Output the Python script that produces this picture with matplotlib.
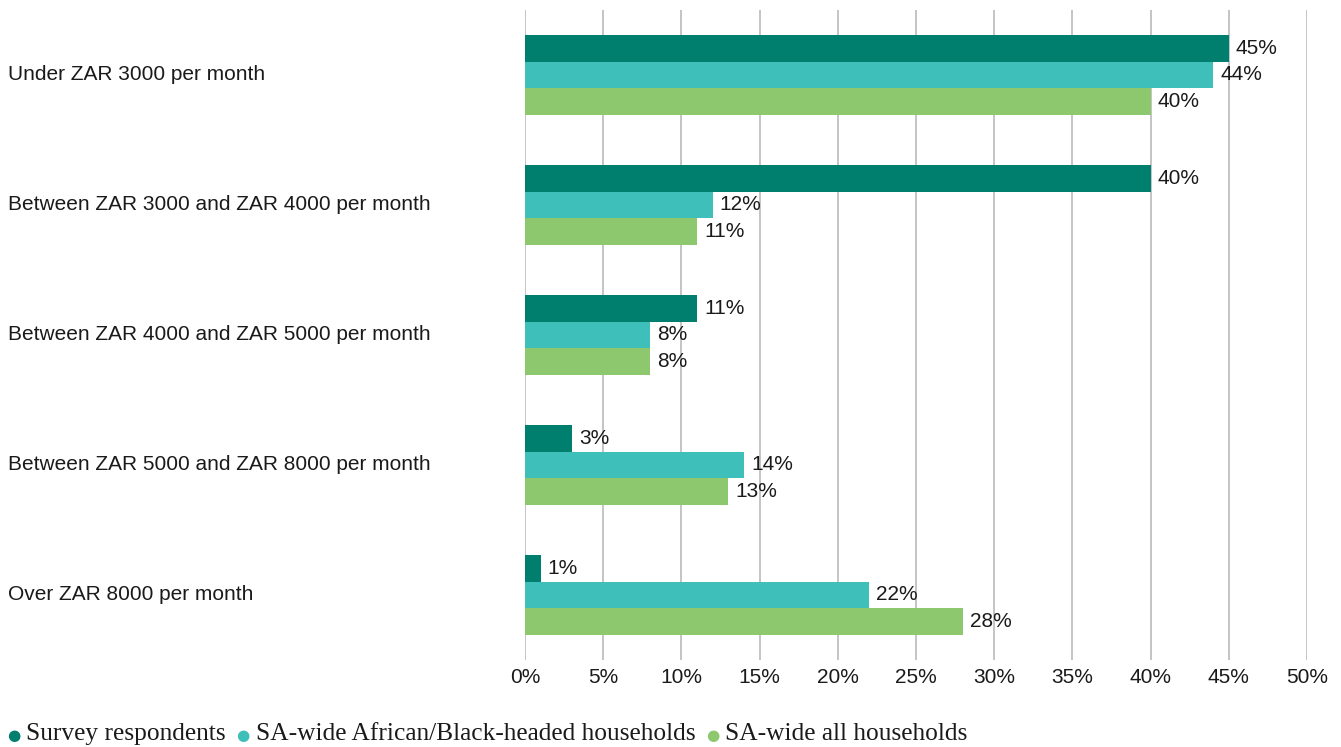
import matplotlib
matplotlib.use("Agg")
import matplotlib.pyplot as plt
import numpy as np
from matplotlib import font_manager

categories = [
    "Under ZAR 3000 per month",
    "Between ZAR 3000 and ZAR 4000 per month",
    "Between ZAR 4000 and ZAR 5000 per month",
    "Between ZAR 5000 and ZAR 8000 per month",
    "Over ZAR 8000 per month",
]
series_names = [
    "Survey respondents",
    "SA-wide African/Black-headed households",
    "SA-wide all households",
]
survey = [45, 40, 11, 3, 1]
african = [44, 12, 8, 14, 22]
all_hh = [40, 11, 8, 13, 28]
colors = ["#007F6E", "#3FBFBA", "#8DC76E"]
ticks = [0, 5, 10, 15, 20, 25, 30, 35, 40, 45, 50]

installed = {f.name for f in font_manager.fontManager.ttflist}
sans = "Liberation Sans Narrow" if "Liberation Sans Narrow" in installed else "Liberation Sans"
serif = "Liberation Serif"

fig = plt.figure(figsize=(13.41, 7.47), dpi=100)
ax = fig.add_axes([525 / 1341, 1 - 660 / 747, (1307 - 525) / 1341, 650 / 747])

y = np.arange(len(categories))
h = 0.207
for i, vals in enumerate([survey, african, all_hh]):
    pos = y + (i - 1) * h
    bars = ax.barh(pos, vals, height=h, color=colors[i], zorder=3)
    for b, v in zip(bars, vals):
        ax.text(v + 0.45, b.get_y() + h / 2, f"{v}%", va="center", ha="left",
                fontsize=15, family=sans, color="#1a1a1a", zorder=4)

ax.set_ylim(len(categories) - 0.5, -0.5)
ax.set_xlim(0, 50)
ax.set_xticks(ticks)
ax.set_xticklabels([f"{t}%" for t in ticks], family=sans, fontsize=15, color="#1a1a1a")
ax.set_yticks(y)
ax.set_yticklabels([])
# category labels left-aligned at the figure edge
for k, c in enumerate(categories):
    ax.text(8 / 1341, k, c, transform=ax.get_yaxis_transform().__class__(fig.transFigure, ax.transData),
            ha="left", va="center", fontsize=15, family=sans, color="#1a1a1a")
ax.tick_params(axis="both", length=0, pad=6)
ax.grid(axis="x", color="#BFBFBF", linewidth=1.3, zorder=0)
for s in ax.spines.values():
    s.set_visible(False)

# legend at the bottom
lx = 7
for name, col in zip(series_names, colors):
    fig.text(lx / 1341, 1 - 735 / 747, "\u25CF", color=col, fontsize=11,
             va="center", ha="left")
    t = fig.text((lx + 19) / 1341, 1 - 734 / 747, name, family=serif, fontsize=18.3,
                 color="#1a1a1a", va="center", ha="left")
    fig.canvas.draw()
    bb = t.get_window_extent()
    lx = bb.x1 + 11

fig.savefig("out.png", dpi=100)
